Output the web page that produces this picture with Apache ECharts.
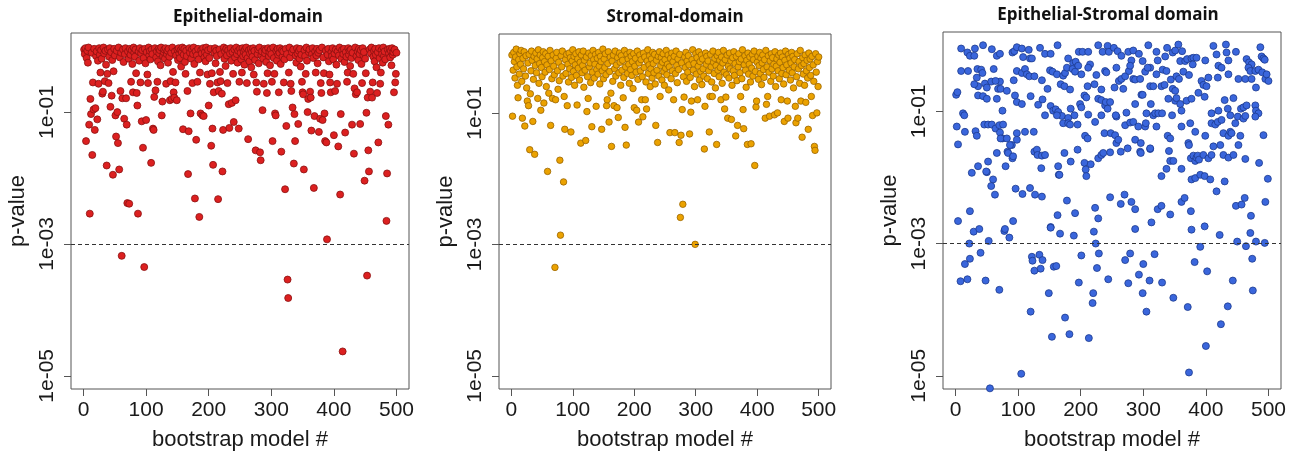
<!DOCTYPE html>
<html><head><meta charset="utf-8">
<script src="https://cdn.jsdelivr.net/npm/echarts@6/dist/echarts.min.js"></script>
<style>html,body{margin:0;padding:0;background:#fff}#c{width:1302px;height:456px}</style>
</head><body><div id="c"></div>
<script>
// ---------- DATA (log10 p-values) ----------
const panelTitles = ['Epithelial-domain', 'Stromal-domain', 'Epithelial-Stromal domain'];
const xAxisTitle = 'bootstrap model #';
const yAxisTitle = 'p-value';
const xTicks = [0, 100, 200, 300, 400, 500];
const yTickValues = [-5, -3, -1];
const yTickLabels = ['1e-05', '1e-03', '1e-01'];
const thresholdLogP = -3;

// Epithelial-domain: log10(p) for bootstrap models 1..500
const epithelialLogP = [
-0.05,-0.12,-0.03,-1.44,-0.18,-0.07,-0.25,-0.02,-1.19,-2.54,
-0.80,-1.03,-0.10,-1.65,-0.55,-0.96,-0.04,-1.27,-0.94,-0.15,
-0.08,-1.11,-0.22,-0.57,-0.03,-0.13,-0.40,-0.06,-0.19,-0.72,
-0.69,-0.02,-0.11,-0.53,-0.07,-0.28,-1.81,-0.42,-0.05,-0.56,
-0.16,-0.03,-0.92,-0.09,-0.75,-0.21,-1.95,-0.38,-0.04,-0.14,
-1.05,-1.37,-0.07,-1.00,-1.47,-0.02,-1.87,-0.17,-0.68,-0.10,
-3.18,-0.79,-0.05,-0.24,-1.10,-0.12,-0.03,-0.79,-1.19,-2.38,
-0.08,-0.19,-2.39,-0.04,-0.13,-0.54,-0.06,-0.27,-0.70,-0.02,
-0.10,-0.16,-0.05,-0.41,-0.71,-0.90,-2.54,-0.08,-0.22,-0.03,
-0.55,-0.11,-1.14,-0.06,-1.54,-0.18,-3.35,-0.04,-0.26,-1.12,
-0.09,-0.43,-0.56,-0.02,-0.14,-0.07,-0.20,-1.77,-0.05,-0.12,
-1.25,-1.27,-0.77,-0.03,-0.67,-0.17,-0.08,-0.54,-0.23,-0.04,
-0.11,-0.06,-0.29,-0.02,-1.05,-0.84,-0.15,-0.09,-0.05,-0.19,
-0.03,-0.57,-0.12,-0.07,-0.25,-0.04,-0.16,-0.82,-0.53,-0.10,
-0.80,-0.02,-0.39,-0.70,-0.78,-0.08,-0.55,-0.14,-0.82,-0.05,
-0.21,-0.03,-0.11,-0.18,-0.06,-0.31,-0.09,-0.02,-1.26,-0.13,
-0.04,-0.24,-0.42,-0.07,-0.15,-0.68,-1.94,-1.29,-0.03,-0.10,
-1.02,-0.19,-0.05,-0.56,-0.12,-0.02,-0.27,-2.31,-0.08,-1.42,
-0.14,-0.54,-0.04,-0.20,-2.59,-0.40,-1.02,-0.06,-0.11,-1.05,
-0.03,-1.06,-0.17,-0.09,-0.23,-0.02,-0.13,-0.43,-0.06,-0.90,
-0.18,-0.57,-0.04,-1.51,-0.41,-1.25,-1.80,-0.70,-0.10,-0.03,
-0.26,-0.07,-0.15,-0.55,-2.32,-0.68,-0.05,-0.39,-0.53,-0.12,
-0.72,-1.90,-1.27,-0.02,-0.19,-0.08,-0.30,-0.04,-0.14,-0.56,
-0.06,-0.88,-1.24,-0.11,-0.03,-0.22,-0.86,-0.09,-0.42,-1.15,
-0.05,-0.17,-0.82,-0.02,-0.12,-0.25,-0.07,-1.25,-0.54,-0.04,
-0.10,-0.20,-0.40,-0.03,-0.15,-0.08,-0.28,-0.05,-0.13,-0.02,
-0.56,-0.18,-1.41,-0.06,-0.23,-0.11,-0.04,-0.32,-0.09,-0.16,
-0.03,-0.43,-0.07,-0.21,-1.58,-0.55,-0.69,-0.12,-0.05,-0.26,
-0.02,-1.61,-1.73,-0.14,-0.08,-0.97,-0.19,-0.57,-0.04,-0.11,
-0.06,-0.24,-0.71,-0.41,-0.03,-0.15,-0.09,-0.29,-0.05,-0.12,
-0.54,-1.44,-0.02,-0.18,-0.42,-1.02,-1.05,-0.07,-0.22,-0.04,
-0.13,-0.70,-0.10,-0.03,-0.27,-1.60,-0.06,-0.16,-0.08,-0.55,
-0.20,-2.17,-0.04,-1.21,-0.12,-3.54,-3.82,-0.40,-0.02,-0.17,
-0.57,-0.68,-0.09,-0.93,-0.05,-1.78,-1.03,-1.44,-0.14,-0.25,
-0.03,-0.11,-1.18,-0.07,-0.19,-0.04,-0.31,-0.13,-0.54,-0.70,
-0.73,-1.87,-0.06,-0.15,-0.42,-0.02,-0.22,-1.00,-0.80,-0.09,
-0.05,-0.69,-0.78,-1.28,-0.12,-0.03,-0.18,-2.15,-1.06,-0.08,
-0.40,-0.14,-0.04,-0.26,-0.10,-1.30,-0.06,-1.10,-0.56,-0.71,
-0.02,-1.12,-0.17,-0.41,-1.02,-1.44,-0.07,-1.46,-2.93,-0.13,
-0.04,-0.23,-0.43,-0.55,-0.70,-0.09,-0.15,-0.03,-0.20,-1.35,
-0.11,-0.68,-0.05,-0.28,-0.57,-0.08,-1.52,-0.14,-0.02,-2.25,
-1.03,-0.19,-0.06,-4.63,-0.12,-0.04,-0.24,-1.31,-0.09,-0.16,
-0.54,-0.40,-0.03,-0.13,-0.07,-0.30,-0.05,-0.18,-1.19,-0.10,
-0.42,-1.63,-0.64,-0.02,-0.73,-0.15,-0.70,-0.08,-0.21,-0.04,
-0.12,-1.18,-0.06,-0.27,-0.56,-0.03,-0.14,-0.09,-2.04,-0.19,
-0.41,-1.01,-3.48,-0.78,-1.58,-1.90,-0.05,-0.69,-0.11,-0.02,
-0.78,-0.55,-0.16,-0.07,-0.23,-0.04,-0.13,-0.32,-0.71,-0.09,
-1.46,-0.03,-0.18,-0.57,-0.40,-0.06,-0.12,-0.25,-0.02,-0.15,
-0.08,-0.20,-1.06,-2.65,-1.93,-0.05,-1.19,-0.11,-0.04,-0.17,
-0.07,-0.29,-0.03,-0.13,-0.09,-0.70,-0.05,-0.55,-0.42,-0.10
];

// Stromal-domain: log10(p) for bootstrap models 1..500
const stromalLogP = [
-0.12,-1.05,-0.35,-0.08,-0.22,-0.47,-0.15,-0.03,-0.30,-0.58,
-0.77,-0.19,-0.41,-0.10,-0.26,-0.05,-0.52,-1.08,-0.17,-0.33,
-0.07,-1.20,-0.44,-0.13,-0.62,-0.82,-0.24,-0.89,-0.11,-1.56,
-0.71,-0.36,-0.06,-0.20,-1.13,-0.49,-0.14,-1.63,-0.28,-0.09,
-0.39,-0.18,-0.78,-0.04,-0.55,-0.25,-0.12,-0.96,-0.31,-0.45,
-0.16,-0.07,-0.85,-0.22,-0.38,-0.10,-0.60,-0.27,-1.89,-0.14,
-0.70,-0.34,-0.05,-1.19,-0.21,-0.48,-0.78,-0.12,-0.29,-0.42,
-3.35,-0.80,-0.17,-0.08,-0.36,-0.64,-0.23,-0.51,-1.72,-2.86,
-0.13,-0.30,-0.06,-0.44,-2.05,-0.75,-1.25,-0.19,-0.40,-0.11,
-0.89,-0.26,-0.53,-0.09,-0.33,-0.16,-1.29,-0.46,-0.21,-0.04,
-0.37,-0.14,-0.58,-0.27,-0.10,-0.43,-0.88,-0.18,-0.32,-0.07,
-0.50,-0.23,-1.46,-0.12,-0.39,-0.28,-0.06,-0.61,-0.20,-0.35,
-1.42,-0.15,-0.98,-0.45,-0.78,-0.09,-0.30,-0.24,-0.54,-0.13,
-1.21,-0.38,-0.05,-0.19,-0.47,-0.26,-0.11,-0.90,-0.34,-0.17,
-0.41,-0.08,-0.29,-0.56,-0.14,-0.22,-1.25,-0.36,-0.03,-0.48,
-0.18,-0.31,-0.10,-0.42,-0.89,-0.80,-0.25,-0.07,-1.14,-0.37,
-0.15,-0.70,-1.51,-0.21,-0.52,-0.12,-0.89,-0.33,-0.06,-0.44,
-0.27,-0.92,-0.16,-1.07,-0.39,-0.09,-0.23,-0.58,-0.13,-0.35,
-0.20,-0.77,-0.46,-0.05,-1.22,-0.30,-1.49,-0.11,-0.40,-0.18,
-0.26,-0.55,-0.08,-0.34,-0.14,-0.43,-0.22,-0.63,-0.10,-0.92,
-0.29,-0.17,-0.38,-0.96,-0.06,-0.49,-1.14,-0.24,-0.12,-0.36,
-0.19,-0.80,-0.45,-1.06,-0.09,-0.31,-0.15,-0.80,-0.53,-0.94,
-0.21,-0.04,-0.40,-0.27,-0.13,-0.60,-0.33,-0.18,-0.47,-0.08,
-0.25,-0.39,-0.11,-0.56,-1.19,-0.20,-0.35,-1.45,-0.14,-0.44,
-0.07,-0.75,-0.28,-0.16,-0.50,-0.23,-0.10,-0.37,-0.58,-0.19,
-0.32,-0.05,-0.42,-0.26,-0.12,-0.65,-0.30,-1.30,-0.17,-0.48,
-0.09,-0.36,-0.22,-0.80,-0.14,-1.30,-0.40,-0.06,-0.28,-0.54,
-0.18,-0.34,-1.45,-0.11,-2.59,-1.34,-0.24,-0.95,-2.39,-0.45,
-0.76,-0.15,-0.31,-0.08,-0.52,-0.21,-0.38,-0.13,-0.27,-1.32,
-0.46,-0.99,-0.82,-0.19,-0.04,-0.35,-0.25,-0.60,-3.00,-0.10,
-0.41,-0.16,-0.80,-0.29,-0.07,-0.50,-0.22,-0.37,-0.12,-0.57,
-0.18,-0.33,-0.44,-1.55,-0.90,-0.09,-0.26,-0.14,-0.48,-0.21,
-0.36,-1.29,-0.75,-0.11,-0.30,-0.53,-0.75,-0.06,-0.23,-0.40,
-0.17,-0.62,-0.28,-1.48,-0.13,-0.35,-0.08,-0.45,-0.20,-0.31,
-0.80,-0.15,-0.55,-0.24,-0.05,-0.38,-0.94,-0.19,-0.76,-0.42,
-0.12,-1.08,-0.29,-0.47,-0.09,-0.33,-0.21,-1.10,-0.58,-0.16,
-0.36,-0.07,-0.43,-0.25,-1.35,-0.14,-0.51,-1.19,-0.30,-0.10,
-0.22,-0.39,-0.75,-0.18,-0.48,-0.04,-0.95,-1.24,-0.27,-0.13,
-0.35,-0.61,-0.20,-1.48,-0.09,-0.41,-0.26,-0.15,-0.53,-1.47,
-0.32,-0.11,-0.44,-0.19,-0.06,-1.80,-0.37,-0.91,-0.82,-0.23,
-0.14,-0.49,-0.28,-0.08,-0.40,-0.17,-0.57,-0.24,-0.12,-0.34,
-0.46,-0.19,-1.08,-0.05,-0.87,-0.30,-0.75,-0.13,-0.38,-1.05,
-0.21,-0.52,-0.10,-0.33,-0.16,-0.44,-0.26,-1.03,-0.07,-0.60,
-0.29,-0.18,-1.00,-0.36,-0.12,-0.48,-0.23,-0.09,-0.80,-0.40,
-0.15,-0.31,-0.56,-1.13,-0.20,-0.06,-0.42,-0.27,-0.82,-1.08,
-0.11,-0.35,-0.17,-0.50,-0.24,-0.08,-0.39,-0.14,-0.62,-0.30,
-0.19,-0.90,-1.15,-0.45,-0.10,-1.08,-0.33,-0.22,-0.55,-0.05,
-0.82,-0.28,-1.37,-0.16,-0.41,-0.25,-0.58,-0.12,-0.84,-0.36,
-0.20,-0.47,-1.25,-0.09,-0.31,-0.18,-0.43,-0.75,-0.14,-1.04,
-0.27,-0.52,-1.51,-1.57,-0.10,-0.38,-1.00,-0.22,-0.60,-0.15
];

// Epithelial-Stromal domain: [bootstrap model #, log10(p)]
const epiStromalPoints = [
[9,-0.05],[19,-0.11],[23,-0.16],[30,-0.16],[31,-0.05],[44,0.0],[58,-0.06],[66,-0.16],[71,-0.13],[91,-0.11],
[94,-0.09],[98,-0.03],[106,-0.05],[108,-0.18],[117,-0.07],[119,-0.20],[122,-0.20],[135,-0.04],[143,-0.13],[152,-0.13],
[163,0.0],[180,-0.20],[188,-0.27],[192,-0.25],[197,-0.10],[203,-0.10],[212,-0.10],[215,-0.29],[228,0.0],[235,-0.10],
[243,-0.01],[245,-0.10],[253,-0.04],[259,-0.09],[265,-0.16],[276,-0.10],[281,-0.23],[284,-0.08],[293,-0.13],[299,-0.24],
[308,0.0],[311,-0.34],[321,-0.10],[323,-0.23],[335,-0.17],[338,-0.04],[347,-0.11],[351,-0.08],[356,0.01],[359,-0.24],
[362,-0.09],[367,-0.24],[370,-0.21],[377,-0.20],[380,-0.19],[385,-0.19],[399,-0.23],[412,-0.01],[417,-0.14],[420,-0.31],
[432,0.01],[433,-0.11],[436,-0.23],[448,-0.10],[465,-0.21],[469,-0.26],[473,-0.29],[487,-0.03],[489,-0.17],[492,-0.20],
[494,-0.22],
[9,-0.39],[20,-0.39],[35,-0.36],[41,-0.37],[43,-0.42],[61,-0.36],[71,-0.55],[34,-0.49],[36,-0.62],[47,-0.58],
[50,-0.64],[57,-0.55],[64,-0.54],[68,-0.66],[72,-0.66],[82,-0.69],[93,-0.53],[98,-0.39],[106,-0.42],[111,-0.36],
[114,-0.44],[118,-0.47],[126,-0.47],[138,-0.53],[147,-0.66],[151,-0.38],[155,-0.40],[162,-0.44],[168,-0.59],[172,-0.46],
[174,-0.62],[175,-0.42],[178,-0.34],[183,-0.67],[187,-0.36],[191,-0.40],[196,-0.31],[201,-0.44],[211,-0.62],[212,-0.34],
[222,-0.59],[225,-0.45],[233,-0.67],[239,-0.39],[241,-0.41],[254,-0.64],[257,-0.34],[261,-0.54],[265,-0.51],[268,-0.66],
[271,-0.47],[277,-0.39],[279,-0.31],[284,-0.51],[287,-0.52],[295,-0.51],[297,-0.75],[303,-0.40],[307,-0.34],[311,-0.62],
[316,-0.62],[321,-0.44],[329,-0.62],[331,-0.37],[334,-0.60],[337,-0.39],[344,-0.52],[347,-0.66],[351,-0.69],[353,-0.47],
[357,-0.51],[364,-0.40],[373,-0.45],[379,-0.29],[388,-0.72],[393,-0.54],[396,-0.60],[401,-0.62],[404,-0.49],[419,-0.49],
[425,-0.34],[436,-0.44],[452,-0.51],[463,-0.51],[468,-0.34],[471,-0.39],[473,-0.51],[479,-0.39],[480,-0.64],[484,-0.37],
[490,-0.41],[495,-0.51],[500,-0.54],[497,-0.44],
[1,-0.75],[3,-0.71],[12,-1.03],[14,-1.06],[30,-0.59],[36,-0.76],[44,-0.77],[50,-0.81],[66,-0.81],[75,-0.99],
[95,-0.76],[98,-0.86],[106,-0.89],[120,-0.77],[132,-0.90],[139,-0.82],[143,-1.06],[152,-0.92],[156,-0.99],[160,-0.97],
[164,-1.01],[170,-1.07],[180,-1.10],[184,-0.96],[190,-1.06],[199,-0.89],[201,-0.94],[206,-0.76],[209,-0.79],[212,-1.05],
[228,-0.81],[233,-0.83],[239,-0.91],[240,-0.86],[243,-0.96],[247,-0.86],[257,-1.08],[256,-1.06],[273,-1.02],[287,-0.89],
[299,-0.75],[305,-1.03],[312,-0.89],[316,-1.06],[319,-1.03],[324,-1.03],[330,-1.03],[340,-0.81],[346,-1.06],[351,-0.84],
[353,-0.80],[359,-0.89],[361,-0.99],[369,-0.84],[377,-0.81],[398,-0.78],[409,-1.03],[420,-0.99],[430,-0.83],[435,-0.96],
[439,-1.06],[444,-0.80],[451,-1.08],[456,-0.96],[460,-0.94],[465,-0.91],[479,-0.91],[480,-0.99],[484,-1.03],
[2,-1.23],[4,-1.50],[15,-1.31],[32,-1.30],[34,-1.37],[46,-1.20],[52,-1.20],[58,-1.20],[64,-1.26],[71,-1.32],
[70,-1.21],[76,-1.20],[75,-1.41],[72,-1.41],[82,-1.41],[90,-1.51],[98,-1.33],[111,-1.31],[125,-1.31],[162,-1.06],
[172,-1.18],[180,-1.18],[183,-1.20],[195,-1.20],[207,-1.37],[211,-1.41],[223,-1.16],[233,-1.06],[238,-1.33],[248,-1.33],
[255,-1.36],[257,-1.48],[260,-1.43],[271,-1.21],[279,-1.17],[284,-1.16],[287,-1.43],[292,-1.23],[296,-1.48],[303,-1.23],
[304,-1.18],[311,-1.57],[321,-1.23],[339,-1.37],[343,-1.41],[361,-1.23],[372,-1.48],[375,-1.18],[383,-1.31],[399,-1.37],
[409,-1.18],[415,-1.20],[419,-1.16],[423,-1.51],[425,-1.13],[428,-1.33],[436,-1.37],[439,-1.31],[441,-1.33],[447,-1.18],
[455,-1.37],[460,-1.11],[463,-1.07],[479,-1.08],[492,-1.36],
[26,-1.93],[36,-1.83],[50,-1.92],[52,-1.76],[66,-1.63],[80,-1.83],[83,-1.61],[84,-1.63],[87,-1.51],[91,-1.71],
[92,-1.68],[98,-1.43],[126,-1.61],[130,-1.58],[131,-1.66],[138,-1.67],[137,-1.86],[143,-1.66],[164,-1.83],[165,-1.96],
[174,-1.63],[184,-1.76],[195,-1.58],[206,-1.78],[208,-1.88],[209,-1.98],[216,-1.80],[228,-1.71],[233,-1.66],[236,-1.63],
[247,-1.62],[264,-1.61],[275,-1.56],[295,-1.61],[296,-1.63],[311,-1.56],[329,-1.98],[337,-1.87],[343,-1.75],[348,-1.75],
[341,-1.60],[361,-1.87],[373,-1.51],[376,-1.71],[380,-1.67],[383,-1.75],[385,-1.70],[387,-1.67],[389,-1.73],[396,-1.66],
[404,-1.71],[409,-1.66],[412,-1.53],[428,-1.66],[436,-1.70],[444,-1.66],[452,-1.51],[463,-1.72],[485,-1.78],
[49,-1.91],[60,-2.03],[57,-2.13],[63,-2.26],[96,-2.17],[107,-2.25],[119,-2.16],[127,-2.26],[138,-2.29],[166,-1.96],
[178,-2.35],[191,-2.54],[223,-2.46],[228,-2.62],[247,-2.30],[264,-2.40],[270,-2.26],[281,-2.37],[287,-2.48],[313,-2.68],
[323,-2.48],[329,-2.43],[343,-2.56],[361,-2.37],[366,-2.31],[376,-2.51],[377,-2.03],[383,-2.01],[391,-1.96],[398,-1.98],
[407,-2.03],[417,-2.21],[430,-2.06],[448,-2.43],[457,-2.41],[462,-2.31],[472,-2.58],[495,-2.37],[499,-2.02],
[4,-2.66],[23,-2.51],[92,-2.66],[152,-2.75],[163,-2.57],
[8,-3.57],[15,-3.31],[19,-3.54],[23,-3.23],[22,-3.00],[29,-2.82],[38,-2.78],[40,-3.14],[48,-3.56],[53,-2.96],
[70,-3.70],[78,-2.81],[79,-2.78],[86,-2.91],[120,-4.03],[122,-3.20],[123,-3.26],[126,-3.41],[134,-3.17],[136,-3.38],
[139,-3.25],[149,-3.75],[152,-2.76],[154,-4.41],[157,-3.35],[161,-3.34],[167,-2.85],[175,-4.12],[182,-4.37],[189,-2.88],
[197,-3.59],[201,-3.18],[213,-4.43],[219,-3.90],[220,-3.75],[221,-2.82],[224,-3.00],[226,-3.37],[229,-3.15],[244,-3.54],
[271,-3.25],[276,-3.60],[279,-3.15],[287,-2.78],[293,-3.47],[299,-3.75],[300,-3.31],[305,-4.03],[310,-3.56],[318,-3.16],
[330,-3.59],[348,-3.82],[371,-3.96],[377,-2.79],[382,-3.28],[391,-3.05],[398,-2.74],[402,-3.42],[422,-2.87],[424,-4.22],
[435,-3.95],[443,-3.56],[450,-2.97],[464,-3.04],[471,-2.84],[474,-3.23],[475,-3.71],[480,-2.97],[494,-2.99],
[105,-4.97],[373,-4.95],[400,-4.55],[55,-5.19]
];

// ---------- CHART ----------
const panelColors = [
  { fill: '#dc2020', border: '#8a1010' },
  { fill: '#eba200', border: '#9a6400' },
  { fill: '#3a66dc', border: '#1c3a8e' }
];
const grids = [
  { left: 71, top: 33, width: 338, height: 363 },
  { left: 499, top: 34, width: 332, height: 356 },
  { left: 943, top: 32, width: 338, height: 362 }
];
const titlePos = [[248, 17], [675, 17], [1108, 15]];
const symbolSizes = [7, 6.5, 7];

const seriesData = [
  epithelialLogP.map((v, i) => [i + 1, v]),
  stromalLogP.map((v, i) => [i + 1, v]),
  epiStromalPoints
];

const textColor = '#1a1a1a';
const font = 'Liberation Sans, Arial, sans-serif';

const option = {
  animation: false,
  backgroundColor: '#ffffff',
  grid: grids.map(g => Object.assign({ show: true, borderColor: '#555', borderWidth: 1, backgroundColor: 'transparent' }, g)),
  xAxis: grids.map((g, i) => ({
    gridIndex: i, type: 'value', min: -20, max: 520,
    axisLine: { show: false, onZero: false },
    splitLine: { show: false },
    axisTick: { show: true, customValues: xTicks, length: 7, lineStyle: { color: '#555' } },
    axisLabel: { customValues: xTicks, fontSize: 21, color: textColor, margin: 11, fontFamily: font },
    name: xAxisTitle, nameLocation: 'middle', nameGap: 40,
    nameTextStyle: { fontSize: 22, color: textColor, fontFamily: font }
  })),
  yAxis: grids.map((g, i) => ({
    gridIndex: i, type: 'value', min: -5.2, max: 0.2,
    axisLine: { show: false, onZero: false },
    splitLine: { show: false },
    axisTick: { show: true, customValues: yTickValues, length: 7, lineStyle: { color: '#555' } },
    axisLabel: {
      customValues: yTickValues, rotate: 90, fontSize: 21, color: textColor, margin: 13, fontFamily: font,
      formatter: v => { const k = yTickValues.indexOf(Math.round(v)); return k >= 0 ? yTickLabels[k] : ''; }
    },
    name: yAxisTitle, nameLocation: 'middle', nameGap: 42,
    nameTextStyle: { fontSize: 22, color: textColor, fontFamily: font }
  })),
  graphic: panelTitles.map((t, i) => ({
    type: 'text', x: titlePos[i][0], y: titlePos[i][1],
    style: { text: t, fill: '#111', font: 'bold 17px "Open Sans", sans-serif', textAlign: 'center', textVerticalAlign: 'middle' }
  })),
  series: seriesData.map((d, i) => ({
    type: 'scatter', xAxisIndex: i, yAxisIndex: i, data: d,
    symbol: 'circle', symbolSize: symbolSizes[i],
    itemStyle: { color: panelColors[i].fill, borderColor: panelColors[i].border, borderWidth: 0.8, opacity: 1 },
    emphasis: { disabled: true },
    markLine: {
      silent: true, symbol: 'none', label: { show: false }, z: 5,
      lineStyle: { type: [4, 3], color: '#333', width: 1 },
      data: [{ yAxis: thresholdLogP }]
    }
  }))
};

const chart = echarts.init(document.getElementById('c'), null, { renderer: 'canvas' });
chart.setOption(option);
</script>
</body></html>
